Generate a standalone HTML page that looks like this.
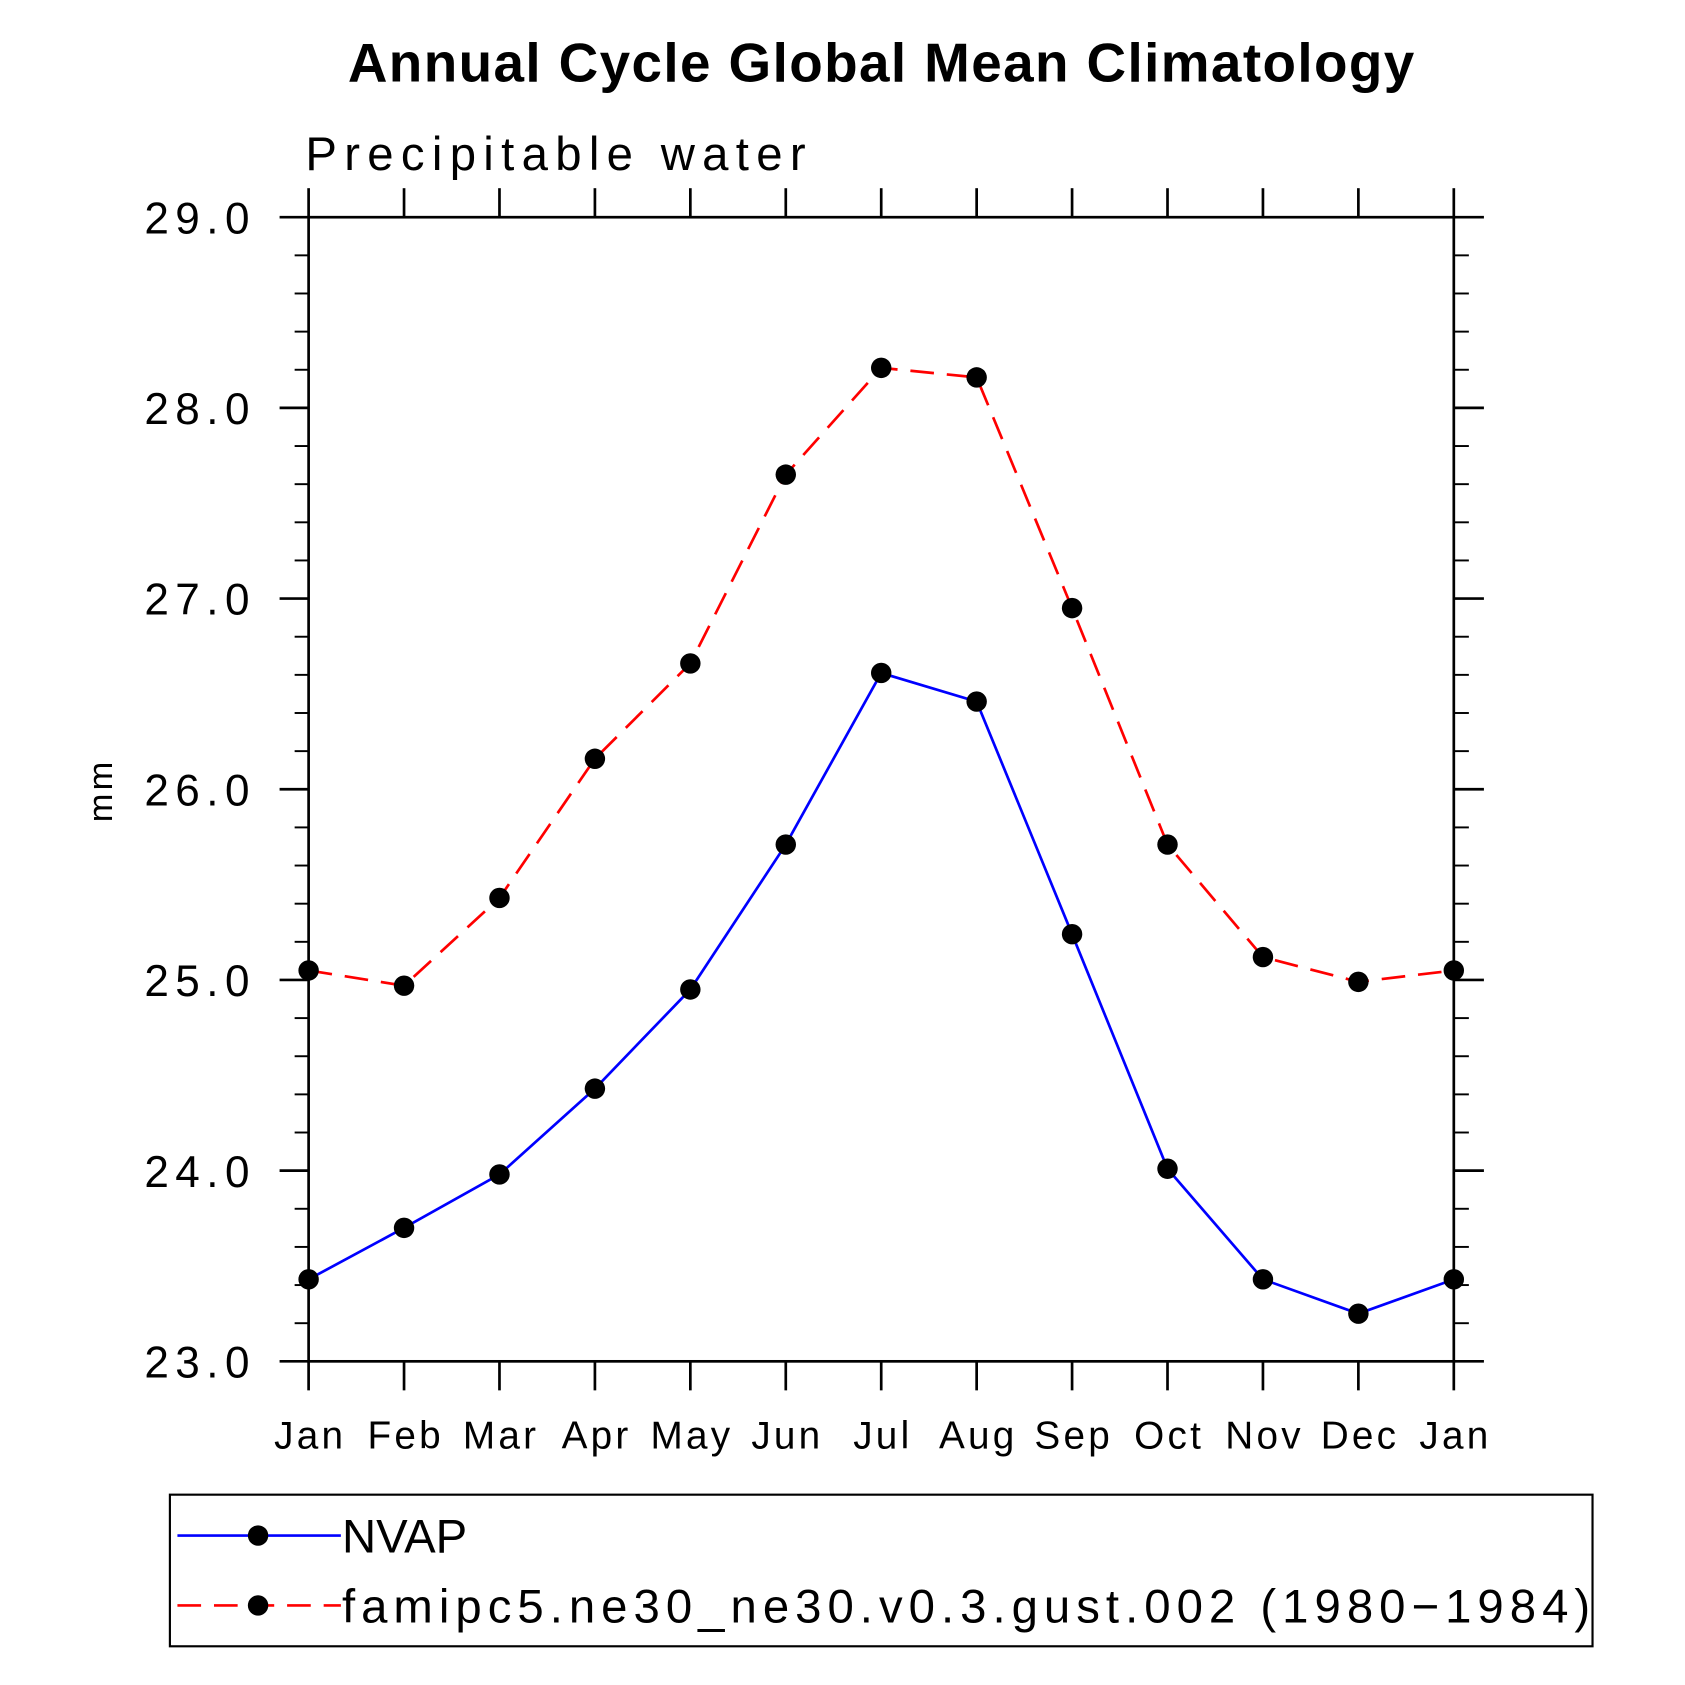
<!DOCTYPE html>
<html><head><meta charset="utf-8"><style>
html,body{margin:0;padding:0;background:#fff;}
svg{display:block;}
text{font-family:"Liberation Sans",sans-serif;}
</style></head><body>
<svg id="chart" width="1685" height="1685" viewBox="0 0 1567 1567" xmlns="http://www.w3.org/2000/svg">
<rect width="1567" height="1567" fill="#fff"/>
<text x="820" y="76" text-anchor="middle" font-size="51" font-weight="bold" letter-spacing="1.3">Annual Cycle Global Mean Climatology</text>
<text x="284" y="158" font-size="44" letter-spacing="6.8">Precipitable water</text>
<text transform="translate(104,735) rotate(-90)" text-anchor="middle" font-size="32" letter-spacing="3">mm</text>
<g id="axes"></g>
<g id="series"></g>
<g id="legend"></g>
</svg>
<script>
const months = ["Jan","Feb","Mar","Apr","May","Jun","Jul","Aug","Sep","Oct","Nov","Dec","Jan"];
const nvap = [23.43,23.70,23.98,24.43,24.95,25.71,26.61,26.46,25.24,24.01,23.43,23.25,23.43];
const model = [25.05,24.97,25.43,26.16,26.66,27.65,28.21,28.16,26.95,25.71,25.12,24.99,25.05];
const yTicks = [23,24,25,26,27,28,29];
const yTickLabels = ["23.0","24.0","25.0","26.0","27.0","28.0","29.0"];
const seriesNames = ["NVAP","famipc5.ne30_ne30.v0.3.gust.002 (1980\u22121984)"];

const NS="http://www.w3.org/2000/svg";
const L=287,R=1352,T=202,B=1266,yMin=23,yMax=29;
const xs=i=>L+(R-L)*i/(months.length-1);
const ys=v=>B-(v-yMin)/(yMax-yMin)*(B-T);
function mk(tag,attrs,parent){const e=document.createElementNS(NS,tag);for(const k in attrs)e.setAttribute(k,attrs[k]);parent.appendChild(e);return e;}
const axes=document.getElementById('axes');
const frame=mk('rect',{x:L,y:T,width:R-L,height:B-T,fill:'none',stroke:'#000','stroke-width':2.5},axes);


yTicks.forEach((v,i)=>{
  const y=ys(v);
  const t1=mk('line',{x1:260,x2:L,y1:y,y2:y,stroke:'#000','stroke-width':2.5},axes);
  
  
  mk('line',{x1:R,x2:1380,y1:y,y2:y,stroke:'#000','stroke-width':2.5},axes);
  const lb=mk('text',{x:238,y:y+15,'text-anchor':'end','font-size':41,'letter-spacing':6},axes);
  lb.textContent=yTickLabels[i];
  
  
  if(i<yTicks.length-1){for(let k=1;k<5;k++){const yy=ys(v+k*0.2);
    mk('line',{x1:274,x2:L,y1:yy,y2:yy,stroke:'#000','stroke-width':1.8},axes);
    mk('line',{x1:R,x2:1366,y1:yy,y2:yy,stroke:'#000','stroke-width':1.8},axes);}}
});
months.forEach((m,i)=>{
  const x=xs(i);
  mk('line',{x1:x,x2:x,y1:B,y2:1293,stroke:'#000','stroke-width':2.5},axes);
  mk('line',{x1:x,x2:x,y1:175,y2:T,stroke:'#000','stroke-width':2.5},axes);
  const lb=mk('text',{x:x+1.5,y:1347,'text-anchor':'middle','font-size':36,'letter-spacing':3},axes);
  lb.textContent=m;
  
  
});
const sg=document.getElementById('series');
function drawSeries(vals,color,dash,name){
  const g=mk('g',{},sg);
  
  
  const pts=vals.map((v,i)=>xs(i)+','+ys(v)).join(' ');
  const a={points:pts,fill:'none',stroke:color,'stroke-width':2.5};
  if(dash)a['stroke-dasharray']=dash;
  mk('polyline',a,g);
  vals.forEach((v,i)=>{const c=mk('circle',{cx:xs(i),cy:ys(v),r:9.5,fill:'#000'},g);
    
    });
}
drawSeries(model,'#f00','22 12','series-model');
drawSeries(nvap,'#00f',null,'series-nvap');
const lg=document.getElementById('legend');
const box=mk('rect',{x:158,y:1390,width:1323,height:141,fill:'none',stroke:'#000','stroke-width':2},lg);


[['#00f',null,1428,0],['#f00','22 12',1493,5.6]].forEach((s,i)=>{
  const g=mk('g',{},lg);
  
  
  const a={x1:165,x2:317,y1:s[2],y2:s[2],stroke:s[0],'stroke-width':2.5};
  if(s[1])a['stroke-dasharray']=s[1];
  mk('line',a,g);
  mk('circle',{cx:240,cy:s[2],r:9.5,fill:'#000'},g);
  const t=mk('text',{x:318,y:s[2]+16,'font-size':44,'letter-spacing':s[3]},g);
  t.textContent=seriesNames[i];
});
</script>
</body></html>
